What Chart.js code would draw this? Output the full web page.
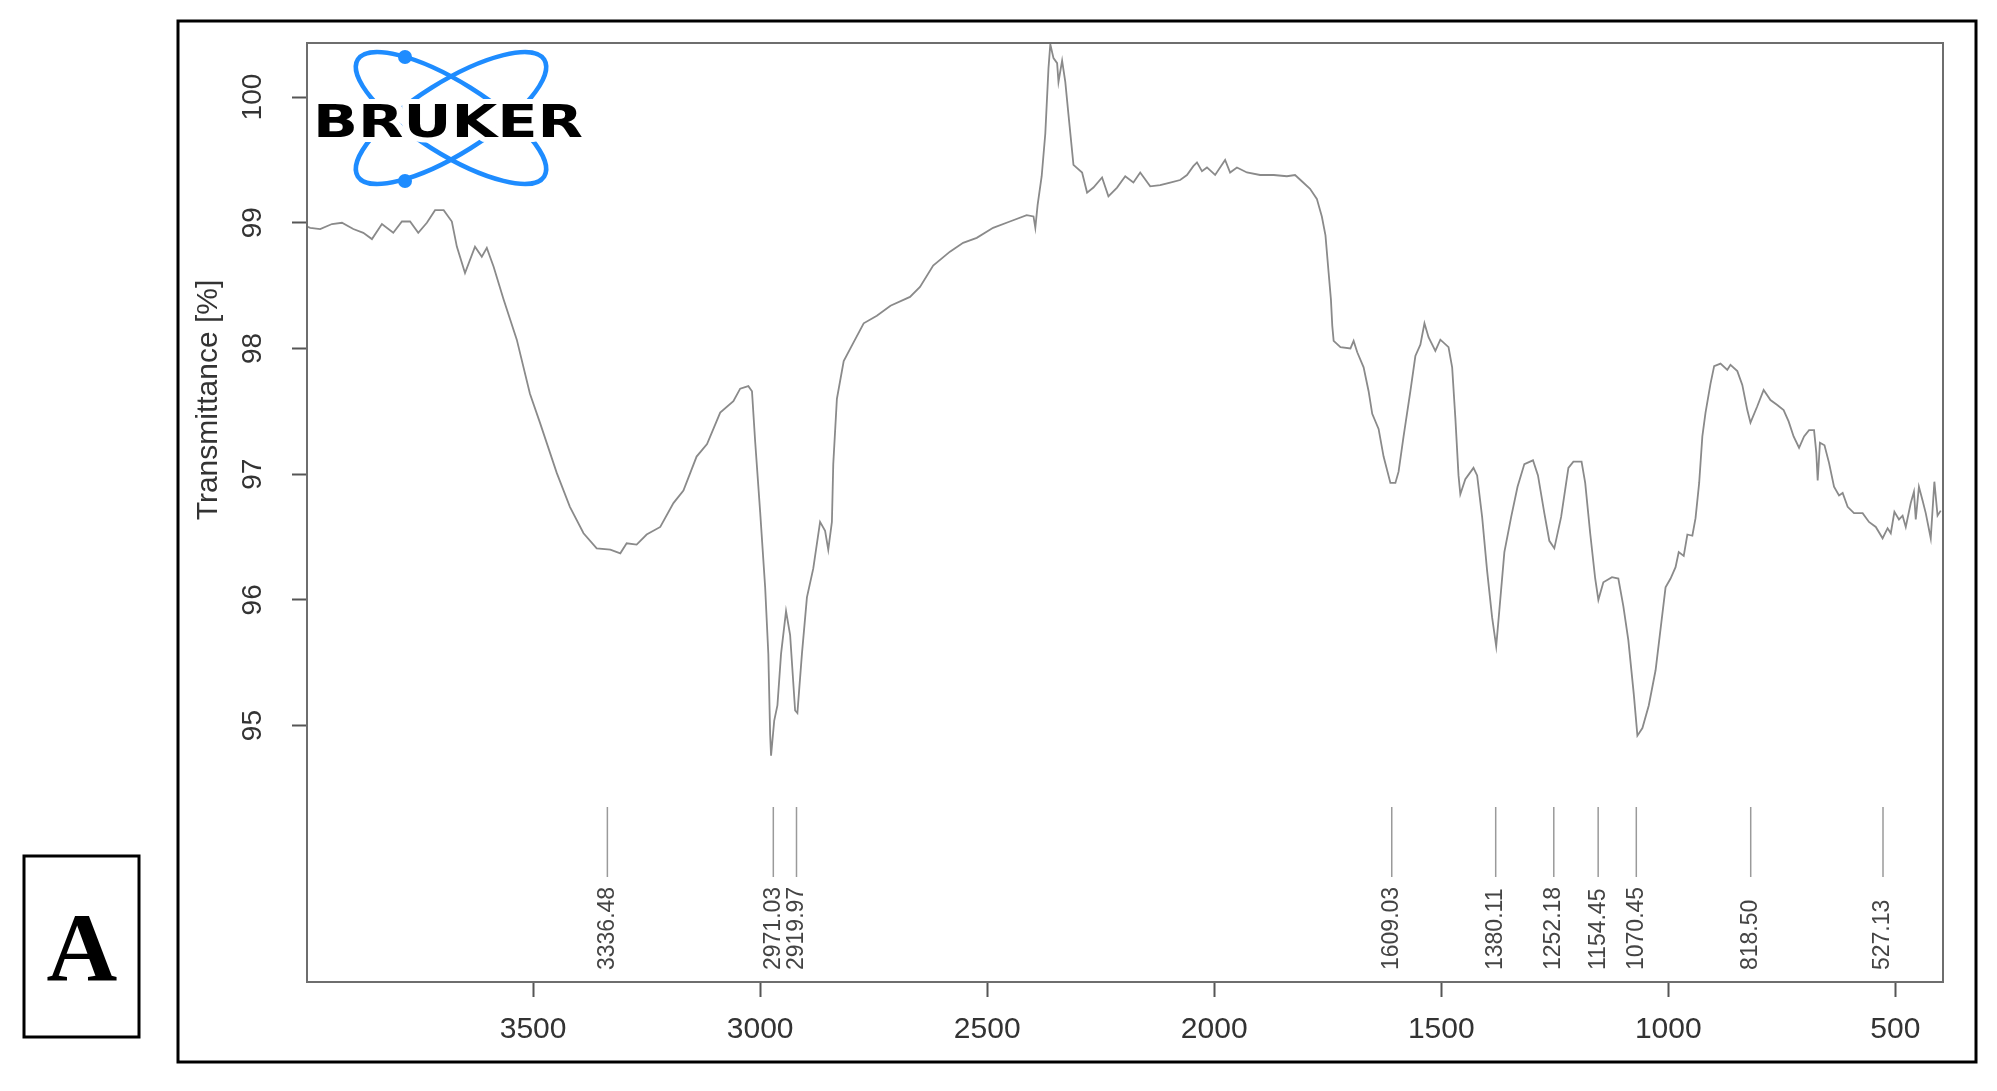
<!DOCTYPE html>
<html>
<head>
<meta charset="utf-8">
<title>Spectre IR</title>
<script src="https://cdn.jsdelivr.net/npm/chart.js@4.4.1/dist/chart.umd.min.js"></script>
<style>
  html, body { margin: 0; padding: 0; background: #fff; }
  #chart1 { display: block; }
</style>
</head>
<body>
<canvas id="chart1" width="1997" height="1091"></canvas>
<script>
// spectre IR : nombre d'onde (cm-1) et transmittance (%)
const waveNumbers = [
  3998, 3991, 3969, 3943, 3921, 3896, 3874, 3855, 3833, 3808, 3789, 3771, 3753, 3734, 3716, 3697,
  3679, 3668, 3650, 3628, 3613, 3602, 3587, 3565, 3536, 3507, 3485, 3448, 3419, 3389, 3360, 3330,
  3308, 3294, 3272, 3250, 3220, 3191, 3169, 3140, 3117, 3088, 3059, 3044, 3026, 3018, 3011, 3000,
  2989, 2982, 2978, 2976, 2969, 2962, 2954, 2943, 2934, 2923, 2918, 2908, 2897, 2883, 2868, 2857,
  2850, 2842, 2839, 2831, 2816, 2794, 2772, 2743, 2713, 2670, 2648, 2619, 2582, 2553, 2523, 2487,
  2450, 2413, 2398, 2394, 2389, 2380, 2372, 2365, 2361, 2354, 2346, 2343, 2335, 2328, 2321, 2310,
  2291, 2280, 2266, 2247, 2233, 2214, 2196, 2178, 2163, 2141, 2119, 2097, 2075, 2060, 2046, 2038,
  2027, 2016, 1998, 1976, 1965, 1950, 1928, 1899, 1869, 1840, 1822, 1807, 1789, 1774, 1763, 1755,
  1748, 1743, 1740, 1737, 1722, 1700, 1693, 1685, 1671, 1660, 1652, 1638, 1627, 1612, 1601, 1594,
  1583, 1568, 1557, 1546, 1537, 1528, 1513, 1502, 1484, 1476, 1469, 1462, 1458, 1447, 1429, 1421,
  1410, 1399, 1388, 1379, 1372, 1361, 1346, 1332, 1317, 1298, 1287, 1273, 1262, 1251, 1236, 1220,
  1209, 1191, 1183, 1172, 1161, 1154, 1143, 1124, 1110, 1099, 1088, 1076, 1068, 1057, 1043, 1028,
  1017, 1006, 995, 984, 977, 966, 958, 947, 940, 932, 925, 918, 907, 899, 885, 870,
  863, 848, 837, 826, 819, 804, 790, 775, 760, 746, 735, 724, 712, 701, 690, 679,
  674, 671, 666, 656, 646, 635, 624, 616, 605, 591, 572, 558, 543, 528, 517, 510,
  502, 492, 484, 477, 466, 459, 455, 448, 440, 433, 422, 414, 407, 400
];
const transmittance = [
  98.97, 98.96, 98.95, 98.99, 99.00, 98.95, 98.92, 98.87, 98.99, 98.92, 99.01, 99.01, 98.92, 99.00, 99.10, 99.10,
  99.01, 98.81, 98.60, 98.81, 98.73, 98.80, 98.65, 98.39, 98.07, 97.64, 97.41, 97.01, 96.74, 96.53, 96.41, 96.40,
  96.37, 96.45, 96.44, 96.52, 96.58, 96.77, 96.87, 97.14, 97.24, 97.49, 97.58, 97.68, 97.70, 97.66, 97.26, 96.70,
  96.10, 95.57, 94.93, 94.76, 95.04, 95.16, 95.57, 95.91, 95.72, 95.12, 95.10, 95.57, 96.02, 96.25, 96.62, 96.55,
  96.40, 96.62, 97.08, 97.60, 97.90, 98.05, 98.20, 98.26, 98.34, 98.41, 98.49, 98.66, 98.77, 98.84, 98.88, 98.96,
  99.01, 99.06, 99.05, 98.96, 99.14, 99.37, 99.71, 100.23, 100.42, 100.31, 100.27, 100.12, 100.29, 100.12, 99.86, 99.46,
  99.40, 99.24, 99.28, 99.36, 99.21, 99.28, 99.37, 99.32, 99.40, 99.29, 99.30, 99.32, 99.34, 99.38, 99.45, 99.48,
  99.41, 99.44, 99.38, 99.50, 99.40, 99.44, 99.40, 99.38, 99.38, 99.37, 99.38, 99.33, 99.27, 99.19, 99.05, 98.90,
  98.60, 98.39, 98.18, 98.06, 98.01, 98.00, 98.06, 97.97, 97.85, 97.66, 97.48, 97.36, 97.14, 96.93, 96.93, 97.02,
  97.30, 97.66, 97.94, 98.03, 98.20, 98.09, 97.98, 98.07, 98.01, 97.85, 97.45, 96.99, 96.84, 96.96, 97.05, 96.99,
  96.66, 96.23, 95.86, 95.63, 95.92, 96.38, 96.66, 96.90, 97.08, 97.11, 96.99, 96.69, 96.47, 96.41, 96.66, 97.05,
  97.10, 97.10, 96.93, 96.53, 96.17, 96.00, 96.14, 96.18, 96.17, 95.95, 95.68, 95.25, 94.92, 94.98, 95.16, 95.44,
  95.77, 96.10, 96.17, 96.26, 96.38, 96.35, 96.52, 96.51, 96.65, 96.93, 97.30, 97.49, 97.72, 97.86, 97.88, 97.83,
  97.87, 97.82, 97.71, 97.51, 97.41, 97.54, 97.67, 97.59, 97.55, 97.51, 97.42, 97.30, 97.21, 97.30, 97.35, 97.35,
  97.17, 96.95, 97.25, 97.23, 97.09, 96.90, 96.83, 96.85, 96.74, 96.69, 96.69, 96.62, 96.58, 96.49, 96.57, 96.53,
  96.70, 96.64, 96.67, 96.58, 96.77, 96.86, 96.64, 96.90, 96.79, 96.69, 96.49, 96.94, 96.67, 96.71
];

// pics marqués
const peakPositions = [3336.48, 2971.03, 2919.97, 1609.03, 1380.11, 1252.18, 1154.45, 1070.45, 818.50, 527.13];
const peakLabels = ["3336.48", "2971.03", "2919.97", "1609.03", "1380.11", "1252.18", "1154.45", "1070.45", "818.50", "527.13"];

// graduations
const xTickValues = [3500, 3000, 2500, 2000, 1500, 1000, 500];
const yTickValues = [95, 96, 97, 98, 99, 100];

const yTitle = "Transmittance [%]";
const panelLetter = "A";
const logoText = "BRUKER";

let points = waveNumbers.map((w, i) => ({ x: w, y: transmittance[i] }));

// dessin du cadre, lettre, logo et pics
const decor = {
  id: 'decor',
  beforeDraw(chart) {
    const c = chart.ctx;
    c.save();
    c.fillStyle = '#fff';
    c.fillRect(0, 0, chart.width, chart.height);
    c.restore();
  },
  afterDraw(chart) {
    const c = chart.ctx;
    const area = chart.chartArea;
    const xs = chart.scales.x;

    c.save();
    // cadre extérieur
    c.strokeStyle = '#000';
    c.lineWidth = 3;
    c.strokeRect(178, 21, 1798, 1041);

    // boite du graphe
    c.strokeStyle = '#6e6e6e';
    c.lineWidth = 2;
    c.strokeRect(area.left, area.top, area.right - area.left, area.bottom - area.top);

    // boite "A"
    c.strokeStyle = '#000';
    c.lineWidth = 3;
    c.strokeRect(24, 856, 115, 181);
    c.fillStyle = '#000';
    c.font = 'bold 98px "Liberation Serif"';
    c.textAlign = 'center';
    c.textBaseline = 'alphabetic';
    c.fillText(panelLetter, 82, 980);

    // titre axe y
    c.save();
    c.translate(209, 400);
    c.rotate(-Math.PI / 2);
    c.font = '30px "Liberation Sans"';
    c.fillStyle = '#333';
    c.textAlign = 'center';
    c.textBaseline = 'middle';
    c.fillText(yTitle, 0, 0);
    c.restore();

    // pics
    c.strokeStyle = '#9a9a9a';
    c.lineWidth = 1.5;
    c.fillStyle = '#444';
    c.font = '23px "Liberation Sans"';
    for (let i = 0; i < peakPositions.length; i++) {
      const px = xs.getPixelForValue(peakPositions[i]);
      c.beginPath();
      c.moveTo(px, area.bottom - 175);
      c.lineTo(px, area.bottom - 105);
      c.stroke();
      c.save();
      c.translate(px, area.bottom - 12);
      c.rotate(-Math.PI / 2);
      c.textAlign = 'left';
      c.textBaseline = 'middle';
      c.fillText(peakLabels[i], 0, 0);
      c.restore();
    }

    // logo
    const cx = 451, cy = 118;
    c.strokeStyle = '#1e8cff';
    c.lineWidth = 4.5;
    [0.56, -0.56].forEach(a => {
      c.beginPath();
      c.ellipse(cx, cy, 110, 36, a, 0, Math.PI * 2);
      c.stroke();
    });
    c.fillStyle = '#1e8cff';
    [[405, 57], [405, 181]].forEach(p => {
      c.beginPath();
      c.arc(p[0], p[1], 7, 0, Math.PI * 2);
      c.fill();
    });
    c.font = 'bold 44px "DejaVu Sans"';
    const w = c.measureText(logoText).width;
    c.save();
    c.translate(313, 137);
    c.scale(270 / w, 1);
    c.textAlign = 'left';
    c.textBaseline = 'alphabetic';
    c.lineJoin = 'round';
    c.strokeStyle = '#fff';
    c.lineWidth = 10;
    c.strokeText(logoText, 0, 0);
    c.fillStyle = '#000';
    c.fillText(logoText, 0, 0);
    c.restore();

    c.restore();
  }
};

ctx = document.getElementById('chart1').getContext('2d');

const myChart = new Chart(ctx, {
  type: 'line',
  data: {
    datasets: [{
      data: points,
      borderColor: '#8a8a8a',
      borderWidth: 1.8,
      pointRadius: 0,
      tension: 0,
      fill: false
    }]
  },
  options: {
    responsive: false,
    animation: false,
    layout: { padding: { left: 0, top: 43, right: 54, bottom: 0 } },
    plugins: {
      legend: { display: false },
      tooltip: { enabled: false }
    },
    scales: {
      x: {
        type: 'linear',
        reverse: true,
        min: 395,
        max: 3998,
        afterBuildTicks: s => { s.ticks = xTickValues.map(v => ({ value: v })); },
        afterFit: s => { s.height = 109; },
        border: { display: false },
        grid: { display: true, drawOnChartArea: false, drawTicks: true, tickLength: 15, tickWidth: 2, tickColor: '#555' },
        ticks: {
          padding: 15,
          maxRotation: 0,
          autoSkip: false,
          color: '#333',
          font: { family: 'Liberation Sans', size: 30 },
          callback: v => String(v)
        }
      },
      y: {
        type: 'linear',
        min: 92.96,
        max: 100.43,
        afterBuildTicks: s => { s.ticks = yTickValues.map(v => ({ value: v })); },
        afterFit: s => { s.width = 307; },
        border: { display: false },
        grid: { display: true, drawOnChartArea: false, drawTicks: true, tickLength: 15, tickWidth: 2, tickColor: '#555' },
        ticks: {
          padding: 15,
          minRotation: 90,
          maxRotation: 90,
          crossAlign: 'center',
          autoSkip: false,
          color: '#333',
          font: { family: 'Liberation Sans', size: 28 },
          callback: v => String(v)
        }
      }
    }
  },
  plugins: [decor]
});
</script>
</body>
</html>
